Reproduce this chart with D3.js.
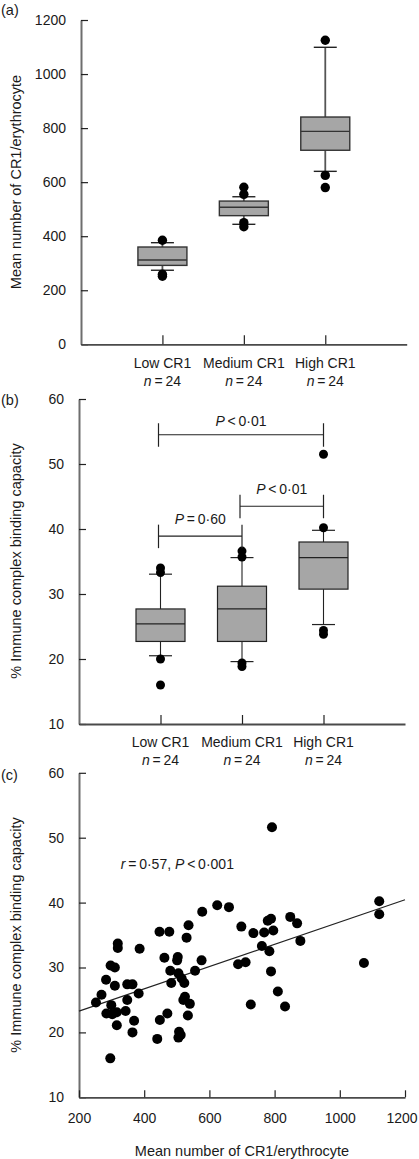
<!DOCTYPE html>
<html><head><meta charset="utf-8">
<script src="https://cdn.jsdelivr.net/npm/d3@7"></script>
<style>
body{margin:0;background:#fff}
text{font-family:"Liberation Sans",Arial,Helvetica,sans-serif;fill:#1a1a1a}
</style>
</head><body>
<svg id="chart" width="419" height="1159"></svg>
<script>
// ---------- DATA ----------
const categories = ["Low CR1", "Medium CR1", "High CR1"];
const groupN = [24, 24, 24];

// Panel (a): CR1 per erythrocyte box plots
const crWhiskerLow  = [274, 444, 640];
const crQ1          = [292, 476, 718];
const crMedian      = [312, 507, 788];
const crQ3          = [360, 530, 841];
const crWhiskerHigh = [376, 546, 1099];
const crOutliers    = [[385, 259, 252], [581, 555, 450, 435], [1125, 625, 580]];
const crTicks = [0, 200, 400, 600, 800, 1000, 1200];

// Panel (b): % immune complex binding capacity box plots
const icWhiskerLow  = [20.5, 19.6, 25.3];
const icQ1          = [22.7, 22.7, 30.75];
const icMedian      = [25.4, 27.7, 35.6];
const icQ3          = [27.7, 31.2, 38.0];
const icWhiskerHigh = [33.05, 35.6, 39.8];
const icOutliers    = [[34.0, 33.3, 20.0, 16.0], [36.6, 35.7, 19.4, 18.85], [51.5, 40.2, 24.4, 23.8]];
const icTicks = [10, 20, 30, 40, 50, 60];

// Pairwise comparisons
const compFrom  = ["Low CR1", "Medium CR1", "Low CR1"];
const compTo    = ["High CR1", "High CR1", "Medium CR1"];
const compLevel = [54.5, 43.5, 38.9];
const compP     = ["<", "<", "="];
const compValue = ["0·01", "0·01", "0·60"];

// Panel (c): scatter
const scatterCR1 = [792, 624, 660, 578, 1121, 1121, 848, 869, 779, 789, 698, 796, 768, 735, 536, 530, 447, 477,
  319, 319, 386, 879, 761, 784, 1074, 688, 711, 789, 576, 462, 503, 501, 297, 310, 283, 480, 505, 515, 523, 556,
  483, 310, 348, 364, 269, 252, 383, 525, 520, 540, 299, 348, 284, 302, 316, 343, 316, 369, 364, 296, 471, 448,
  440, 507, 512, 505, 534, 727, 810, 832];
const scatterIC = [51.6, 39.6, 39.3, 38.6, 40.2, 38.2, 37.8, 36.8, 37.2, 37.5, 36.3, 35.7, 35.4, 35.3, 36.5, 34.6, 35.5, 35.5,
  33.7, 33.0, 32.9, 34.1, 33.3, 32.5, 30.7, 30.5, 30.8, 29.4, 31.1, 31.5, 31.6, 31.1, 30.3, 30.0, 28.1, 29.5, 29.1, 28.3, 27.6, 29.5,
  27.6, 27.2, 27.4, 27.4, 25.8, 24.6, 26.0, 25.5, 25.0, 24.4, 24.2, 25.0, 22.9, 22.8, 23.1, 23.3, 21.1, 21.8, 20.0, 16.0, 22.9, 21.9,
  19.0, 20.1, 19.6, 19.2, 22.6, 24.3, 26.3, 24.0];
const regIntercept = 19.85;
const regSlope = 0.01715;
const corrR = "0·57";
const corrP = "0·001";
const scTicksX = [200, 400, 600, 800, 1000, 1200];
const scTicksY = [10, 20, 30, 40, 50, 60];

// ---------- DRAW ----------
const svg = d3.select("#chart");
const FS = 14;
const THIN = "\u2009";

function styleAxis(g, domainColor, domainWidth) {
  g.select(".domain").attr("stroke", domainColor).attr("stroke-width", domainWidth);
  g.selectAll(".tick line").attr("stroke", "#222").attr("stroke-width", 1.2);
  g.selectAll(".tick text").attr("font-size", FS).attr("fill", "#1a1a1a")
    .attr("font-family", '"Liberation Sans",Arial,sans-serif');
}

function panelLabel(txt, x, y) {
  svg.append("text").attr("x", x).attr("y", y).attr("font-size", FS + 0.5).text(txt);
}

function yTitle(txt, cx, cy) {
  svg.append("text").attr("transform", `translate(${cx},${cy}) rotate(-90)`)
    .attr("text-anchor", "middle").attr("font-size", FS + 0.5).text(txt);
}

function catLabels(x, yBase) {
  categories.forEach((c, i) => {
    svg.append("text").attr("x", x(c)).attr("y", yBase).attr("text-anchor", "middle")
      .attr("font-size", FS).text(c);
    const t = svg.append("text").attr("x", x(c)).attr("y", yBase + 18).attr("text-anchor", "middle")
      .attr("font-size", FS);
    t.append("tspan").attr("font-style", "italic").text("n");
    t.append("tspan").text(THIN + "=" + THIN + groupN[i]);
  });
}

function boxPanel(opts) {
  const {x, y, wl, q1, med, q3, wh, outl, ticks, axisLeftX, boxW, capW, r, st} = opts;
  const xAxisY = y.range()[0];
  const gy = svg.append("g").attr("transform", `translate(${axisLeftX},0)`)
    .call(d3.axisLeft(y).tickValues(ticks).tickSizeInner(-7).tickSizeOuter(0).tickPadding(15).tickFormat(d3.format("d")));
  styleAxis(gy, "#6e6e6e", 2);
  const gx = svg.append("g").attr("transform", `translate(0,${xAxisY})`)
    .call(d3.axisBottom(x).tickSizeInner(-9).tickSizeOuter(0).tickFormat(""));
  styleAxis(gx, "#4a4a4a", 1.8);

  const g = svg.append("g");
  categories.forEach((c, i) => {
    const cx = x(c);
    g.append("line").attr("x1", cx).attr("x2", cx).attr("y1", y(q3[i])).attr("y2", y(wh[i]))
      .attr("stroke", st.whisker).attr("stroke-width", st.whiskerW);
    g.append("line").attr("x1", cx).attr("x2", cx).attr("y1", y(q1[i])).attr("y2", y(wl[i]))
      .attr("stroke", st.whisker).attr("stroke-width", st.whiskerW);
    [wl[i], wh[i]].forEach(v => {
      g.append("line").attr("x1", cx - capW / 2).attr("x2", cx + capW / 2).attr("y1", y(v)).attr("y2", y(v))
        .attr("stroke", st.cap).attr("stroke-width", st.capW);
    });
    g.append("rect").attr("x", cx - boxW / 2).attr("width", boxW)
      .attr("y", y(q3[i])).attr("height", y(q1[i]) - y(q3[i]))
      .attr("fill", "#a6a6a6").attr("stroke", st.box).attr("stroke-width", st.boxW);
    g.append("line").attr("x1", cx - boxW / 2).attr("x2", cx + boxW / 2).attr("y1", y(med[i])).attr("y2", y(med[i]))
      .attr("stroke", st.box).attr("stroke-width", st.boxW);
    g.selectAll(null).data(outl[i]).enter().append("circle")
      .attr("cx", cx).attr("cy", d => y(d)).attr("r", r).attr("fill", "#000");
  });
}

// ---- Panel (a)
const xA = d3.scalePoint().domain(categories).range([81, 406.7]).padding(1);
const yA = d3.scaleLinear().domain([0, 1200]).range([344.3, 20]);
boxPanel({x: xA, y: yA, wl: crWhiskerLow, q1: crQ1, med: crMedian, q3: crQ3, wh: crWhiskerHigh,
  outl: crOutliers, ticks: crTicks, axisLeftX: 81, boxW: 49, capW: 23, r: 4.7,
  st: {whisker: "#555", whiskerW: 1.8, cap: "#222", capW: 1.4, box: "#333", boxW: 1.4}});
panelLabel("(a)", 1, 15);
yTitle("Mean number of CR1/erythrocyte", 21, 182);
catLabels(xA, 368);

// ---- Panel (b)
const xB = d3.scalePoint().domain(categories).range([79, 405]).padding(1);
const yB = d3.scaleLinear().domain([10, 60]).range([724, 399]);
boxPanel({x: xB, y: yB, wl: icWhiskerLow, q1: icQ1, med: icMedian, q3: icQ3, wh: icWhiskerHigh,
  outl: icOutliers, ticks: icTicks, axisLeftX: 79, boxW: 49, capW: 23, r: 4.5,
  st: {whisker: "#222", whiskerW: 1.1, cap: "#222", capW: 1.2, box: "#222", boxW: 1.2}});
panelLabel("(b)", 1, 405);
yTitle("% Immune complex binding capacity", 21, 561);
catLabels(xB, 747);

compFrom.forEach((f, i) => {
  const x1 = xB(f) - 2, x2 = xB(compTo[i]), yy = yB(compLevel[i]);
  const gb = svg.append("g").attr("stroke", "#222").attr("stroke-width", 1.2);
  gb.append("line").attr("x1", x1).attr("x2", x2).attr("y1", yy).attr("y2", yy);
  gb.append("line").attr("x1", x1).attr("x2", x1).attr("y1", yy - 11.5).attr("y2", yy + 12);
  gb.append("line").attr("x1", x2).attr("x2", x2).attr("y1", yy - 11.5).attr("y2", yy + 12);
  const t = svg.append("text").attr("x", (x1 + x2) / 2).attr("y", yy - (i === 0 ? 9 : 12))
    .attr("text-anchor", "middle").attr("font-size", FS);
  t.append("tspan").attr("font-style", "italic").text("P");
  t.append("tspan").text(THIN + compP[i] + THIN + compValue[i]);
});

// ---- Panel (c)
const xC = d3.scaleLinear().domain([200, 1200]).range([79, 405]);
const yC = d3.scaleLinear().domain([10, 60]).range([1097.3, 772.8]);
const gyc = svg.append("g").attr("transform", "translate(79,0)")
  .call(d3.axisLeft(yC).tickValues(scTicksY).tickSizeInner(-7).tickSizeOuter(0).tickPadding(15));
styleAxis(gyc, "#6e6e6e", 2);
const gxc = svg.append("g").attr("transform", "translate(0,1097.3)")
  .call(d3.axisBottom(xC).tickValues(scTicksX).tickSizeInner(-7).tickSizeOuter(0).tickPadding(16).tickFormat(d3.format("d")));
styleAxis(gxc, "#4a4a4a", 1.8);
// keep the last tick label inside the frame, as in the reference
gxc.selectAll(".tick text").filter(d => d === scTicksX[scTicksX.length - 1]).attr("dx", -3.5);
panelLabel("(c)", 1, 780);
yTitle("% Immune complex binding capacity", 21, 935);
svg.append("text").attr("x", xC(700)).attr("y", 1155.5).attr("text-anchor", "middle")
  .attr("font-size", FS + 0.5).text("Mean number of CR1/erythrocyte");

const regX = xC.domain();
svg.append("line")
  .attr("x1", xC(regX[0])).attr("y1", yC(regIntercept + regSlope * regX[0]))
  .attr("x2", xC(regX[1])).attr("y2", yC(regIntercept + regSlope * regX[1]))
  .attr("stroke", "#222").attr("stroke-width", 1.1);

svg.append("g").selectAll("circle").data(scatterCR1).enter().append("circle")
  .attr("cx", d => xC(d)).attr("cy", (d, i) => yC(scatterIC[i])).attr("r", 5).attr("fill", "#000");

const ann = svg.append("text").attr("x", xC(328)).attr("y", yC(45.2)).attr("font-size", FS);
ann.append("tspan").attr("font-style", "italic").text("r");
ann.append("tspan").text(THIN + "=" + THIN + corrR + ", ");
ann.append("tspan").attr("font-style", "italic").text("P");
ann.append("tspan").text(THIN + "<" + THIN + corrP);
</script>
</body></html>
